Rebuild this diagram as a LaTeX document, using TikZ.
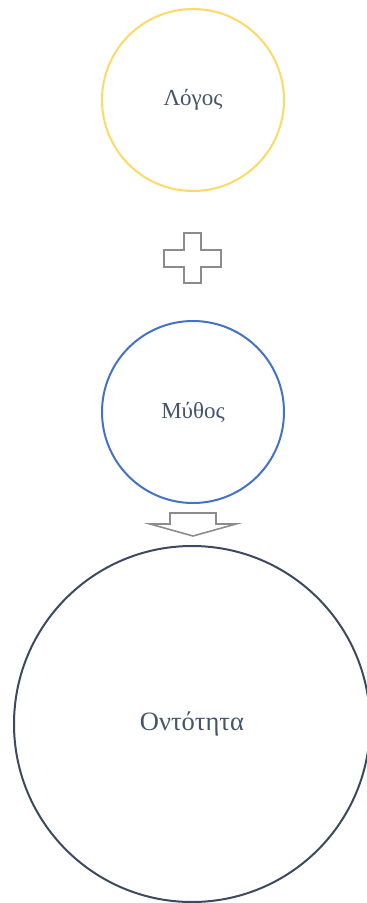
\documentclass[tikz,border=0pt]{standalone}
\usepackage{fontspec}
\setmainfont{Liberation Serif}
\begin{document}
\begin{tikzpicture}[x=1pt,y=-1pt,line cap=rect]
\useasboundingbox (0,0) rectangle (367,903);
\definecolor{custcol_ff_d9_66}{RGB}{255, 217, 102}
\definecolor{custcol_44_72_c4}{RGB}{68, 114, 196}
\definecolor{custcol_3b_4a_5e}{RGB}{59, 74, 94}
\definecolor{custcol_44_54_6a}{RGB}{68, 84, 106}
\definecolor{custcol_8c_8c_8c}{RGB}{140, 140, 140}
\tikzset{ring/.style={circle, draw, line width=2.0pt, inner sep=0, outer sep=0, custcol_44_54_6a, text=custcol_44_54_6a}}
\clip (0,0) rectangle (367,903);
\node[ring, draw=custcol_ff_d9_66, minimum size=182pt, font=\fontsize{23pt}{23pt}\selectfont] (logos) at (193.0,100.0) {Λόγος};
\node[ring, draw=custcol_44_72_c4, minimum size=182pt, font=\fontsize{23pt}{23pt}\selectfont] (mythos) at (193.0,412.0) {Μύθος};
\node[ring, draw=custcol_3b_4a_5e, minimum size=356pt, font=\fontsize{26.5pt}{26.5pt}\selectfont] (ontotita) at (192.0,724.0) {Οντότητα};
\draw [line width=1.6pt, custcol_8c_8c_8c, line cap=butt, line join=miter] (184.0,233.0) -- (201.0,233.0) -- (201.0,250.0) -- (221.0,250.0) -- (221.0,267.0) -- (201.0,267.0) -- (201.0,283.0) -- (184.0,283.0) -- (184.0,267.0) -- (164.0,267.0) -- (164.0,250.0) -- (184.0,250.0) -- cycle;
\draw [line width=1.6pt, custcol_8c_8c_8c, line cap=butt, line join=miter] (170.0,513.0) -- (216.0,513.0) -- (216.0,524.0) -- (236.0,524.0) -- (193.0,536.0) -- (150.0,524.0) -- (170.0,524.0) -- cycle;
\end{tikzpicture}
\end{document}
